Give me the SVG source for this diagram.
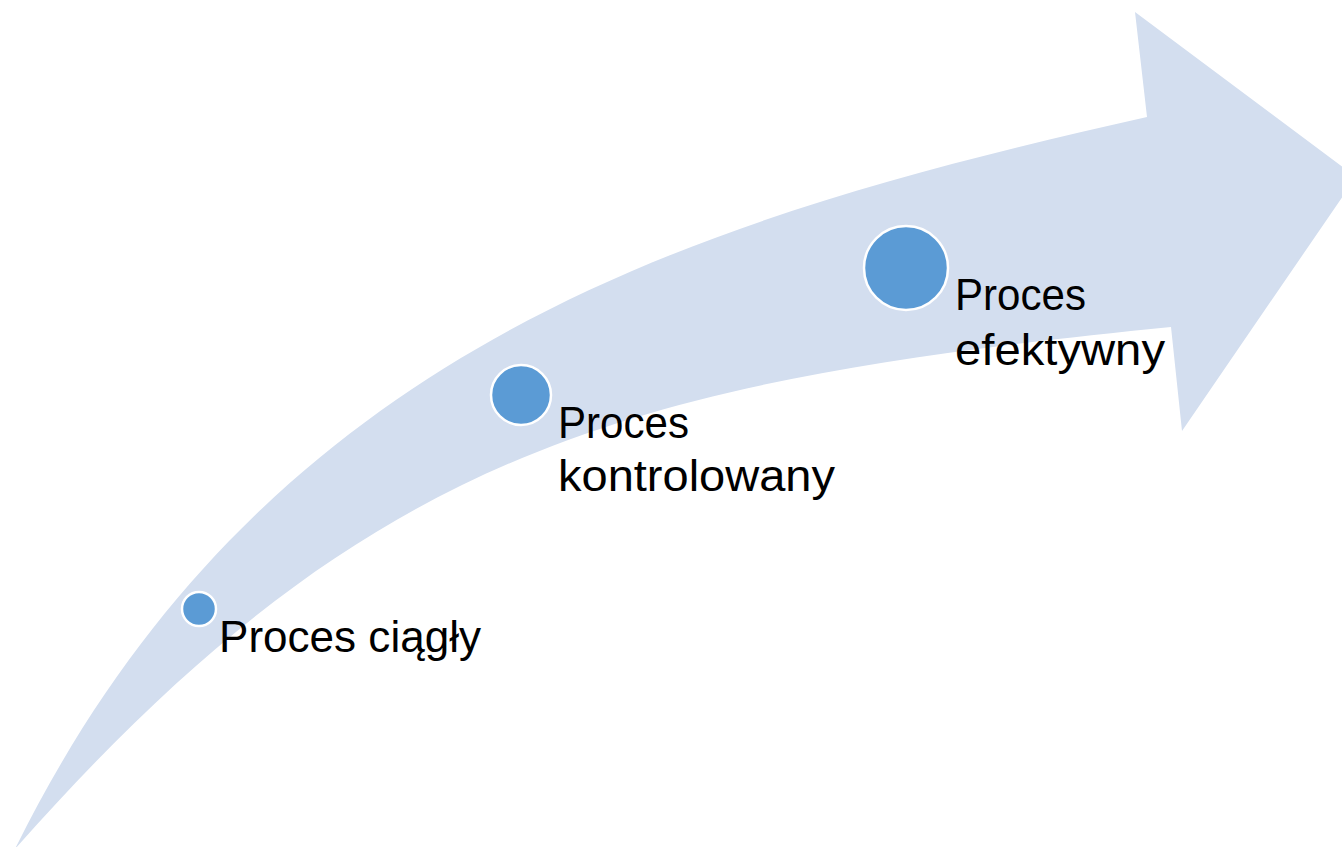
<svg xmlns="http://www.w3.org/2000/svg" width="1342" height="847" viewBox="0 0 1342 847">
<style>
.arrow{fill:#D3DEEF;stroke:none}
.dot{fill:#5B9BD5;stroke:#FFFFFF;stroke-width:2.5}
.lbl{font-family:"Liberation Sans",Arial,sans-serif;font-size:44px;fill:#000000}
</style>
<rect width="1342" height="847" fill="#FFFFFF"/>
<g id="arrow">
<path class="arrow" d="M15,849 C263,347 695,219 1147,117 L1135,12 L1356,177 L1182,431 L1171,327 C621,382 367,451 15,849 Z"/>
</g>
<g id="connectors"></g>
<g id="node-ciagly">
<circle class="dot" cx="199" cy="609" r="17"/>
<text class="lbl" x="219" y="652" textLength="262" lengthAdjust="spacingAndGlyphs">Proces ciągły</text>
</g>
<g id="node-kontrolowany">
<circle class="dot" cx="521" cy="395" r="30"/>
<text class="lbl" x="558" y="438" textLength="131" lengthAdjust="spacingAndGlyphs">Proces</text>
<text class="lbl" x="558" y="491" textLength="277" lengthAdjust="spacingAndGlyphs">kontrolowany</text>
</g>
<g id="node-efektywny">
<circle class="dot" cx="906" cy="268" r="42"/>
<text class="lbl" x="955" y="310" textLength="131" lengthAdjust="spacingAndGlyphs">Proces</text>
<text class="lbl" x="955" y="365" textLength="210" lengthAdjust="spacingAndGlyphs">efektywny</text>
</g>
</svg>
